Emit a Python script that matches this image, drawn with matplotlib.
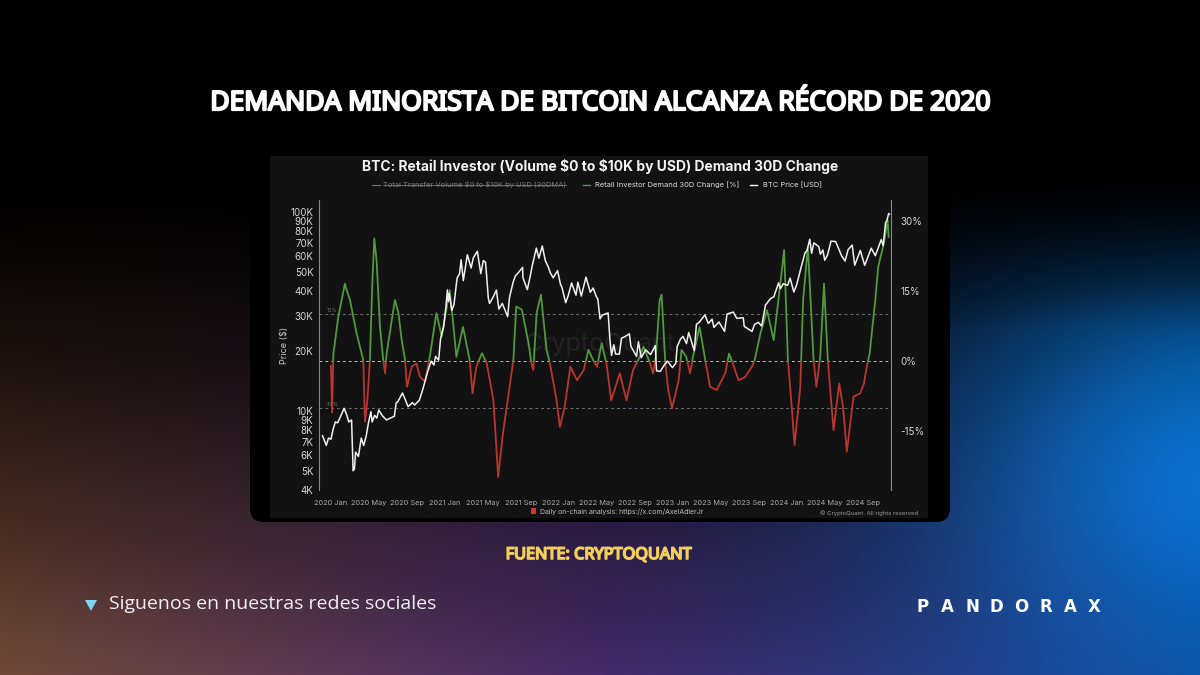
import numpy as np
import pandas as pd
import matplotlib
matplotlib.use('Agg')
import matplotlib.pyplot as plt
import matplotlib.patheffects as pe
from matplotlib.patches import FancyBboxPatch, Rectangle, Polygon

# ---- data ----
price_dates = ['2019-12-05', '2019-12-17', '2019-12-24', '2020-01-01', '2020-01-08', '2020-01-15', '2020-01-22',
               '2020-02-01', '2020-02-12', '2020-02-20', '2020-02-27', '2020-03-07', '2020-03-12', '2020-03-16',
               '2020-03-20', '2020-03-29', '2020-04-07', '2020-04-15', '2020-04-23', '2020-04-30', '2020-05-08',
               '2020-05-12', '2020-05-20', '2020-05-27', '2020-06-02', '2020-06-15', '2020-06-27', '2020-07-10',
               '2020-07-22', '2020-07-28', '2020-08-02', '2020-08-17', '2020-08-26', '2020-09-04', '2020-09-18',
               '2020-09-25', '2020-10-10', '2020-10-21', '2020-11-05', '2020-11-17', '2020-11-26', '2020-12-01',
               '2020-12-11', '2020-12-17', '2020-12-27', '2021-01-03', '2021-01-08', '2021-01-11', '2021-01-14',
               '2021-01-22', '2021-01-29', '2021-02-08', '2021-02-16', '2021-02-21', '2021-02-28', '2021-03-13',
               '2021-03-25', '2021-04-01', '2021-04-14', '2021-04-25', '2021-05-03', '2021-05-10', '2021-05-13',
               '2021-05-19', '2021-05-23', '2021-06-01', '2021-06-14', '2021-06-22', '2021-07-03', '2021-07-20',
               '2021-07-26', '2021-08-07', '2021-08-14', '2021-08-23', '2021-09-06', '2021-09-07', '2021-09-21',
               '2021-10-01', '2021-10-07', '2021-10-20', '2021-10-28', '2021-11-08', '2021-11-18', '2021-11-26',
               '2021-12-04', '2021-12-13', '2021-12-27', '2022-01-05', '2022-01-10', '2022-01-22', '2022-01-30',
               '2022-02-10', '2022-02-24', '2022-03-02', '2022-03-13', '2022-03-28', '2022-04-11', '2022-04-20',
               '2022-04-30', '2022-05-05', '2022-05-12', '2022-05-19', '2022-06-07', '2022-06-13', '2022-06-18',
               '2022-06-25', '2022-07-01', '2022-07-13', '2022-07-20', '2022-07-30', '2022-08-14', '2022-08-19',
               '2022-09-06', '2022-09-12', '2022-09-21', '2022-10-05', '2022-10-21', '2022-11-05', '2022-11-09',
               '2022-11-21', '2022-12-05', '2022-12-14', '2022-12-30', '2023-01-10', '2023-01-14', '2023-01-25',
               '2023-02-02', '2023-02-13', '2023-02-20', '2023-03-10', '2023-03-17', '2023-03-26', '2023-04-13',
               '2023-04-24', '2023-05-06', '2023-05-12', '2023-05-28', '2023-06-15', '2023-06-23', '2023-07-13',
               '2023-07-24', '2023-08-14', '2023-08-17', '2023-09-11', '2023-09-19', '2023-10-01', '2023-10-12',
               '2023-10-24', '2023-11-09', '2023-11-20', '2023-12-05', '2023-12-11', '2023-12-20', '2024-01-03',
               '2024-01-11', '2024-01-23', '2024-02-01', '2024-02-14', '2024-02-28', '2024-03-05', '2024-03-14',
               '2024-03-20', '2024-03-27', '2024-04-12', '2024-04-17', '2024-04-25', '2024-05-01', '2024-05-10',
               '2024-05-21', '2024-06-05', '2024-06-24', '2024-07-05', '2024-07-15', '2024-07-28', '2024-08-05',
               '2024-08-23', '2024-09-06', '2024-09-27', '2024-10-10', '2024-10-29', '2024-11-04', '2024-11-12',
               '2024-11-16', '2024-11-22', '2024-11-24']
price_usd = [7500, 6700, 7300, 7200, 8100, 8800, 8700,
             9400, 10300, 9600, 8800, 9000, 5000, 5100,
             6200, 5900, 7300, 6700, 7500, 8700, 9900,
             8800, 9500, 9200, 10100, 9400, 9000, 9200,
             9400, 11000, 11100, 12300, 11400, 10500, 11000,
             10700, 11300, 12800, 15600, 17800, 17000, 18800,
             18000, 23000, 26500, 33000, 40600, 35500, 39000,
             32000, 34200, 46500, 49000, 57500, 45200, 61000,
             52300, 58800, 63500, 49000, 57000, 56000, 49500,
             37000, 34700, 36700, 40500, 32500, 34700, 29800,
             37300, 44600, 47800, 49500, 52700, 46800, 40700,
             48100, 53800, 65900, 58600, 67500, 56800, 53600,
             49400, 46700, 50800, 43500, 41800, 35000, 38000,
             44000, 38200, 44400, 37800, 47100, 39500, 41500,
             37600, 36500, 29000, 30300, 31100, 22500, 19000,
             21500, 19300, 19300, 23200, 23600, 24400, 21100,
             18800, 22300, 18500, 20300, 19200, 21300, 15900,
             15800, 17100, 17800, 16500, 17400, 21000, 23000,
             23700, 21800, 24800, 20100, 27300, 27900, 30400,
             27500, 28900, 26300, 28000, 25100, 30700, 31400,
             29200, 29400, 26600, 25100, 27200, 27900, 26700,
             34000, 36700, 37500, 44000, 41200, 43600, 42800,
             46600, 39600, 43100, 51800, 62500, 63800, 73000,
             62000, 70000, 67000, 61300, 64500, 57200, 60800,
             71400, 71100, 60300, 56700, 64800, 68200, 54000,
             64100, 53900, 65800, 60300, 72700, 67800, 88500,
             90600, 98400, 97500]

# months since 2020-01-01
demand_month = [0.0, 0.12, 0.25, 0.77, 1.47, 1.65, 2.0, 2.7, 3.4, 3.58,
                3.83, 4.1, 4.35, 4.56, 4.8, 5.16, 5.5, 5.7, 5.86, 6.4,
                6.74, 7.1, 7.44, 7.8, 8.0, 8.5, 9.0, 9.37, 9.9, 10.4,
                11.1, 11.65, 12.2, 12.5, 12.9, 13.2, 13.9, 14.6, 14.9, 15.3,
                15.9, 16.4, 17.1, 17.6, 18.1, 18.8, 19.2, 19.5, 20.1, 20.8,
                21.1, 21.3, 21.65, 22.1, 22.7, 23.05, 23.75, 24.1, 24.6, 25.2,
                25.9, 26.6, 27.1, 27.6, 28.0, 28.5, 29.0, 29.5, 30.4, 31.1,
                31.8, 32.5, 32.9, 33.6, 33.9, 34.2, 34.6, 34.8, 35.2, 35.5,
                35.9, 36.6, 36.9, 37.4, 37.8, 38.1, 38.8, 39.4, 39.9, 40.6,
                41.5, 41.9, 42.3, 42.9, 43.6, 44.3, 44.6, 45.2, 45.9, 46.6,
                47.3, 47.7, 48.1, 48.5, 48.8, 49.4, 49.7, 50.2, 50.8, 51.1,
                51.5, 51.9, 52.3, 52.9, 53.5, 53.9, 54.3, 55.0, 55.7, 56.1,
                56.4, 56.7, 57.3, 57.6, 58.2, 58.6, 58.7]
demand_pct = [-1.0, -11.0, 1.5, 9.5, 16.6, 15.2, 13.1, 5.9, 0.2, -13.0,
              -8.4, 0.2, 16.6, 26.3, 21.6, 7.3, 0.2, -2.6, 1.6, 8.8,
              13.1, 10.3, 4.6, 0.2, -5.5, -1.2, -0.5, -3.4, -4.4, 0.9,
              10.3, 5.3, 11.7, 15.2, 7.3, 0.9, 7.3, 0.2, -6.9, -1.2,
              1.7, -0.5, -8.4, -24.8, -15.5, -5.5, 0.2, 11.7, 11.0, 3.8,
              -0.5, -1.9, 10.3, 14.2, 2.4, -0.5, -8.4, -14.1, -9.8, -1.2,
              -4.1, -1.9, 2.4, 0.2, -1.2, 3.8, -0.5, -8.4, -2.6, -8.4,
              -1.9, 0.9, 3.1, -0.5, -2.6, 0.9, 13.1, 14.2, -0.5, -6.2,
              -10.1, -4.1, 2.4, 0.9, -2.6, 0.9, 7.3, 0.2, -5.5, -6.2,
              -2.6, 1.6, -0.5, -4.1, -3.4, -1.2, 0.2, 5.9, 10.9, 4.5,
              16.6, 23.8, 0.2, -9.8, -18.0, -5.5, 13.1, 24.5, 0.2, -5.5,
              0.9, 16.6, 0.2, -14.8, -4.8, -9.8, -19.4, -7.6, -6.9, -4.8,
              -1.2, 1.6, 13.1, 20.2, 25.2, 30.2, 26.6]
assert len(demand_month) == len(demand_pct)
assert len(price_dates) == len(price_usd)

x_labels = ['2020 Jan', '2020 May', '2020 Sep', '2021 Jan', '2021 May', '2021 Sep', '2022 Jan', '2022 May',
            '2022 Sep', '2023 Jan', '2023 May', '2023 Sep', '2024 Jan', '2024 May', '2024 Sep']
price_ticks = [4000, 5000, 6000, 7000, 8000, 9000, 10000, 20000, 30000, 40000, 50000, 60000, 70000, 80000,
               90000, 100000]
price_tick_labels = ['4K', '5K', '6K', '7K', '8K', '9K', '10K', '20K', '30K', '40K', '50K', '60K', '70K',
                     '80K', '90K', '100K']
pct_ticks = [-15, 0, 15, 30]
pct_tick_labels = ['-15%', '0%', '15%', '30%']

t0 = pd.Timestamp('2020-01-01')
price_month = np.asarray((pd.to_datetime(price_dates) - t0).days) / 30.4375

GREEN = '#4f9a3c'
RED = '#b9362e'
CHART_FONT = ['Inter', 'DejaVu Sans']
HEAD_FONT = ['Noto Sans', 'DejaVu Sans']

fig = plt.figure(figsize=(12, 6.75), dpi=100)

# ---- background (pixel coordinates, y down) ----
bg = fig.add_axes([0, 0, 1, 1])
H, W = 675, 1200
yy, xx = np.mgrid[0:H, 0:W].astype(float)
fx = (xx / W)[..., None]
c_left = np.array([0.45, 0.29, 0.23])
c_mid = np.array([0.27, 0.17, 0.42])
c_right = np.array([0.04, 0.24, 0.50])
col = np.where(fx < 0.5, c_left * (1 - 2 * fx) + c_mid * 2 * fx,
               c_mid * (2 - 2 * fx) + c_right * (2 * fx - 1))
v = np.clip((yy - 170) / (H - 170), 0, 1) ** 1.4
img = col * v[..., None]
glow = np.exp(-((xx - 1220) ** 2 / (2 * 200 ** 2) + (yy - 440) ** 2 / (2 * 150 ** 2)))
glow *= np.clip((yy - 180) / 150, 0, 1)
img += glow[..., None] * np.array([0.02, 0.33, 0.58])
bg.imshow(np.clip(img, 0, 1), extent=[0, W, H, 0], aspect='auto', interpolation='bilinear')
bg.set_xlim(0, W)
bg.set_ylim(H, 0)
bg.axis('off')

# panel with the chart screenshot look
bg.add_patch(FancyBboxPatch((250, 153), 700, 369, boxstyle='round,pad=0,rounding_size=14',
                            fc='#000000', ec='none'))
bg.add_patch(Rectangle((270, 156), 658, 362, fc='#121212', ec='none'))

r = fig.canvas.get_renderer()
inv = bg.transData.inverted()


def fit_width(t, target):
    # shrink/grow the font so the text spans the target pixel width
    bb = t.get_window_extent(r)
    t.set_fontsize(t.get_fontsize() * target / bb.width)


# headline (condensed face thickened with a stroke of the same colour)
head = bg.text(600, 103, 'DEMANDA MINORISTA DE BITCOIN ALCANZA RÉCORD DE 2020', ha='center', va='center',
               fontsize=20, fontweight='bold', fontstretch='condensed', color='white', family=HEAD_FONT,
               path_effects=[pe.withStroke(linewidth=1.6, foreground='white')])
fit_width(head, 782)

# chart title + legend
bg.text(600, 167, 'BTC: Retail Investor (Volume \\$0 to \\$10K by USD) Demand 30D Change', ha='center',
        va='center', fontsize=10, fontweight='bold', color='#f2f2f2', family=CHART_FONT)
bg.plot([372, 380], [185, 185], color='#777777', lw=0.8)
t_off = bg.text(383, 185, 'Total Transfer Volume \\$0 to \\$10K by USD (30DMA)', ha='left', va='center',
                fontsize=5.4, color='#7a7a7a', family=CHART_FONT)
bg.plot([583, 590], [185, 185], color=GREEN, lw=1.0)
bg.text(595, 185, 'Retail Investor Demand 30D Change [%]', ha='left', va='center', fontsize=5.4,
        color='#dddddd', family=CHART_FONT)
bg.plot([750, 757], [185, 185], color='white', lw=1.0)
bg.text(763, 185, 'BTC Price [USD]', ha='left', va='center', fontsize=5.4, color='#dddddd', family=CHART_FONT)

# strike through the disabled series label
bb = t_off.get_window_extent(r)
(sx0, sy0), (sx1, sy1) = inv.transform([[bb.x0, bb.y0], [bb.x1, bb.y1]])
bg.plot([sx0, sx1], [(sy0 + sy1) / 2] * 2, color='#7a7a7a', lw=0.6)

# watermark
bg.text(600, 345, 'CryptoQuant', ha='center', va='center', fontsize=18, color='white', alpha=0.07,
        family=CHART_FONT)

bg.text(285, 345, 'Price ($)', rotation=90, ha='center', va='center', fontsize=6.5, color='#cccccc',
        family=CHART_FONT)
bg.text(332, 311, '10%', ha='center', va='center', fontsize=3.8, color='#777777', family=CHART_FONT)
bg.text(332, 405, '-10%', ha='center', va='center', fontsize=3.8, color='#777777', family=CHART_FONT)

# footer inside panel
bg.add_patch(Rectangle((531, 508), 5, 6, fc='#d0312d', ec='none'))
bg.text(540, 512, 'Daily on-chain analysis: https://x.com/AxelAdlerJr', ha='left', va='center',
        fontsize=5, color='#bbbbbb', family=CHART_FONT)
bg.text(918, 513, '© CryptoQuant. All rights reserved', ha='right', va='center', fontsize=4.3,
        color='#999999', family=CHART_FONT)

# source + footer of the card
src = bg.text(599, 555, 'FUENTE: CRYPTOQUANT', ha='center', va='center', fontsize=13, fontweight='bold',
              fontstretch='condensed', color='#f3cf5a', family=HEAD_FONT,
              path_effects=[pe.withStroke(linewidth=1.2, foreground='#f3cf5a')])
fit_width(src, 186)
bg.add_patch(Polygon([[85, 600], [97, 600], [91, 611]], closed=True, fc='#7fd3f3', ec='none'))
bg.text(109, 604, 'Siguenos en nuestras redes sociales', ha='left', va='center', fontsize=14,
        color='#f2eef4', family=['Open Sans', 'DejaVu Sans'])
for i, ch in enumerate('PANDORAX'):
    bg.text(923 + i * 24.5, 607, ch, ha='center', va='center', fontsize=12, fontweight='bold',
            color='white', family=['DejaVu Sans'])

# ---- the chart ----
ax = fig.add_axes([319 / 1200, 1 - 490 / 675, 572 / 1200, 290 / 675])
ax2 = ax.twinx()
ax.set_zorder(3)
ax2.set_zorder(2)
ax.patch.set_visible(False)
ax2.patch.set_visible(False)

xmin, xmax = -1.26, 58.95
ax2.set_ylim(-27.6, 34.5)
ax2.set_xlim(xmin, xmax)
for lvl, c in [(0, '#bdbdbd'), (10, '#6e6e6e'), (-10, '#6e6e6e')]:
    ax2.axhline(lvl, color=c, lw=0.7, ls=(0, (3, 3)))

g_line, = ax2.plot(demand_month, demand_pct, color=GREEN, lw=1.3)
r_line, = ax2.plot(demand_month, demand_pct, color=RED, lw=1.3)
g_line.set_clip_path(Rectangle((xmin, 0), xmax - xmin, 100, transform=ax2.transData))
r_line.set_clip_path(Rectangle((xmin, -100), xmax - xmin, 100, transform=ax2.transData))

ax.plot(price_month, price_usd, color='#f0f0f0', lw=1.1)
ax.set_yscale('log')
ax.set_ylim(4000, 115000)
ax.set_xlim(xmin, xmax)
ax.set_yticks(price_ticks)
ax.set_yticklabels(price_tick_labels)
ax.minorticks_off()
ax.set_xticks(np.arange(0, 60, 4))
ax.set_xticklabels(x_labels)
ax2.set_yticks(pct_ticks)
ax2.set_yticklabels(pct_tick_labels)

for a in (ax, ax2):
    for s in a.spines.values():
        s.set_visible(False)
ax.spines['left'].set_visible(True)
ax.spines['left'].set_color('#8a8a8a')
ax.spines['left'].set_linewidth(0.8)
ax2.spines['right'].set_visible(True)
ax2.spines['right'].set_color('#8a8a8a')
ax2.spines['right'].set_linewidth(0.8)

ax.tick_params(axis='y', length=0, pad=4, labelsize=7, labelcolor='#d6d6d6')
ax.tick_params(axis='x', length=0, pad=7, labelsize=5.3, labelcolor='#aaaaaa')
ax2.tick_params(axis='y', length=0, pad=7, labelsize=7, labelcolor='#d6d6d6')
for lab in ax.get_xticklabels() + ax.get_yticklabels() + ax2.get_yticklabels():
    lab.set_family(CHART_FONT)

fig.savefig('out.png', dpi=100)
